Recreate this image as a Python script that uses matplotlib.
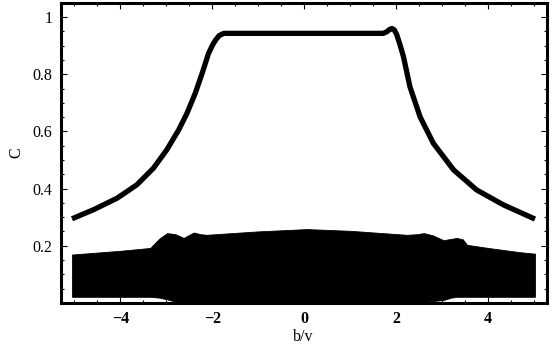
import numpy as np
import matplotlib
matplotlib.use("Agg")
import matplotlib.pyplot as plt
from matplotlib.ticker import MultipleLocator

# Main curve C(b/v)
curve_x = [-5.05, -4.58, -4.07, -3.64, -3.28, -2.99, -2.73, -2.55, -2.37, -2.22, -2.08, -1.99, -1.93,
           -1.85, -1.75, -1.0, 0.0, 1.0, 1.72, 1.80, 1.86, 1.91, 1.96, 2.01, 2.08, 2.16, 2.30, 2.52,
           2.81, 3.25, 3.75, 4.33, 5.02]
curve_y = [0.294, 0.326, 0.366, 0.413, 0.471, 0.535, 0.605, 0.663, 0.733, 0.803, 0.873, 0.903, 0.919,
           0.935, 0.943, 0.943, 0.943, 0.943, 0.943, 0.949, 0.957, 0.960, 0.955, 0.940, 0.905, 0.861,
           0.756, 0.651, 0.558, 0.465, 0.395, 0.343, 0.293]

# Dense lower band (envelope of the many oscillating curves)
band_x = [-5.05, -4.0, -3.35, -3.15, -2.98, -2.8, -2.62, -2.5, -2.4, -2.25, -2.12, -1.0, 0.06,
          1.0, 2.23, 2.45, 2.6, 2.8, 3.03, 3.2, 3.32, 3.45, 3.54, 4.0, 4.7, 5.02]
band_top = [0.169, 0.182, 0.192, 0.225, 0.244, 0.240, 0.227, 0.238, 0.246, 0.240, 0.238, 0.250, 0.258,
            0.252, 0.238, 0.240, 0.244, 0.236, 0.219, 0.224, 0.227, 0.222, 0.203, 0.192, 0.177, 0.172]
band_bot = [0.021, 0.021, 0.021, 0.018, 0.012, 0.004, 0.001, 0.001, 0.0, 0.0, 0.0, 0.0, 0.0,
            0.0, 0.0, 0.001, 0.004, 0.006, 0.010, 0.018, 0.021, 0.021, 0.021, 0.021, 0.021, 0.021]

xticks = [-4, -2, 0, 2, 4]
yticks = [0.2, 0.4, 0.6, 0.8, 1.0]
yticklabels = ["0.2", "0.4", "0.6", "0.8", "1"]
xticklabels = ["\u22124", "\u22122", "0", "2", "4"]

plt.rcParams['font.family'] = ['Liberation Serif', 'DejaVu Serif']

fig = plt.figure(figsize=(5.57, 3.45), dpi=100)
ax = fig.add_axes([60.5/557, 1 - 302.8/345, (546.5 - 60.5)/557, (302.8 - 2.5)/345])

ax.fill_between(band_x, band_bot, band_top, color='black', linewidth=0.6)
ax.plot(curve_x, curve_y, color='black', linewidth=3.8, solid_capstyle='butt',
        solid_joinstyle='round')

ax.set_xlim(-5.3, 5.27)
ax.set_ylim(0, 1.051)

ax.set_xticks(xticks)
ax.set_xticklabels(xticklabels, fontsize=11.5, fontweight='bold')
ax.set_yticks(yticks)
ax.set_yticklabels(yticklabels, fontsize=11.5)
ax.xaxis.set_minor_locator(MultipleLocator(0.5))
ax.yaxis.set_minor_locator(MultipleLocator(0.05))
ax.tick_params(which='both', direction='in', top=True, right=True, width=0.8)
ax.tick_params(which='major', length=4, pad=6)
ax.tick_params(which='minor', length=2.5)
for s in ax.spines.values():
    s.set_linewidth(2.2)

ax.set_xlabel("b/v", fontsize=11.5, labelpad=1)
ax.set_ylabel("C", fontsize=11.5, labelpad=6)

fig.savefig("out.png", dpi=100)
